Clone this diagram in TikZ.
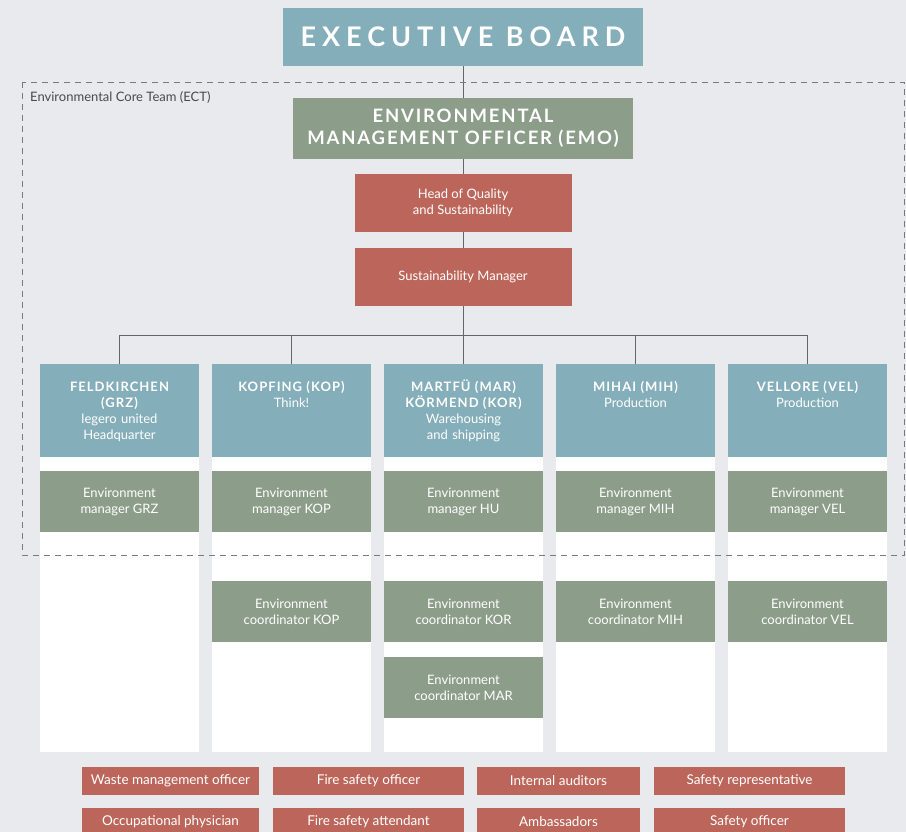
\documentclass[tikz,border=0pt]{standalone}
\usepackage{fontspec}
\setmainfont{Lato}
\definecolor{ecbg}{HTML}{E9EAED}
\definecolor{ecblue}{HTML}{84AEBA}
\definecolor{ecgreen}{HTML}{8C9E8A}
\definecolor{ecred}{HTML}{BC665B}
\definecolor{ecline}{HTML}{666666}
\definecolor{ecdash}{HTML}{7A7A7A}
\definecolor{ectext}{HTML}{4A4A4A}
\newcommand\sitename[1]{{\bfseries\addfontfeature{LetterSpace=8}#1}}

\begin{document}
\begin{tikzpicture}
[%%%%%%%%%%%%%%%%%%%%%%%%%%%%%%
x=1pt,y=-1pt,
box/.style={rectangle,inner sep=2pt,text=white,align=center,font=\fontsize{13}{16}\selectfont},
bluebox/.style={box,fill=ecblue},
greenbox/.style={box,fill=ecgreen,minimum width=159pt,minimum height=61pt},
redbox/.style={box,fill=ecred},
column/.style={rectangle,fill=white,minimum width=159pt,minimum height=388pt},
headtext/.style={anchor=north,inner sep=0pt,text=white,align=center,text width=159pt,font=\fontsize{13}{16}\selectfont},
link/.style={draw=ecline,line width=0.8pt},
ect/.style={draw=ecdash,line width=0.8pt,dash pattern=on 6pt off 5pt},
]%%%%%%%%%%%%%%%%%%%%%%%%%%%%%%

\clip (0,0) rectangle (906,832);
\fill[ecbg] (0,0) rectangle (906,832);

% top of the chart
\node[bluebox,minimum width=360pt,minimum height=58pt,
  font=\fontsize{27}{30}\selectfont\bfseries\addfontfeature{LetterSpace=22}] (board) at (463,37) {EXECUTIVE BOARD};
\node[greenbox,minimum width=340pt,minimum height=61pt,
  font=\fontsize{18.5}{22}\selectfont\bfseries\addfontfeature{LetterSpace=10}] (emo) at (463,128.5) {ENVIRONMENTAL\\MANAGEMENT OFFICER (EMO)};
\node[redbox,minimum width=217pt,minimum height=58pt] (hoq) at (463,203) {Head of Quality\\and Sustainability};
\node[redbox,minimum width=217pt,minimum height=58pt] (sm) at (463,277) {Sustainability Manager};

\draw[link] (board) -- (emo);
\draw[link] (emo) -- (hoq);
\draw[link] (hoq) -- (sm);

% sites
\foreach \n/\x/\m in {grz/119.5/GRZ,kop/291.5/KOP,mar/463.5/HU,mih/635.5/MIH,vel/807.5/VEL}{
\node[column] (col\n) at (\x,558){};
\node[bluebox,minimum width=159pt,minimum height=93pt] (head\n) at (\x,410.5){};
\node[greenbox] (mgr\n) at (\x,501.5){Environment\\manager \m};
\draw[link] (sm.south) -- ++(0,29) -| (head\n.north);
}

\node[headtext] (txtgrz) at (119.5,379){\rule{0pt}{12.5pt}\sitename{FELDKIRCHEN}\\\sitename{(GRZ)}\\legero united\\Headquarter};
\node[headtext] (txtkop) at (291.5,379){\rule{0pt}{12.5pt}\sitename{KOPFING (KOP)}\\Think!};
\node[headtext] (txtmar) at (463.5,379){\lineskiplimit=-6pt\rule{0pt}{12.5pt}\sitename{MARTFÜ (MAR)}\\\sitename{KÖRMEND (KOR)}\\Warehousing\\and shipping};
\node[headtext] (txtmih) at (635.5,379){\rule{0pt}{12.5pt}\sitename{MIHAI (MIH)}\\Production};
\node[headtext] (txtvel) at (807.5,379){\rule{0pt}{12.5pt}\sitename{VELLORE (VEL)}\\Production};

\node[greenbox] (coordkop) at (291.5,611.5){Environment\\coordinator KOP};
\node[greenbox] (coordkor) at (463.5,611.5){Environment\\coordinator KOR};
\node[greenbox] (coordmar) at (463.5,687.5){Environment\\coordinator MAR};
\node[greenbox] (coordmih) at (635.5,611.5){Environment\\coordinator MIH};
\node[greenbox] (coordvel) at (807.5,611.5){Environment\\coordinator VEL};

% core team frame
\draw[ect] (22,82) rectangle (904,555);
\node[anchor=west,inner sep=0pt,text=ectext,font=\fontsize{13}{15}\selectfont] (ectlabel) at (30,97){Environmental Core Team (ECT)};

% further roles
\foreach \k/\x/\w/\a/\b in {1/170.5/177pt/{Waste management officer}/{Occupational physician},
  2/368.5/191pt/{Fire safety officer}/{Fire safety attendant},
  3/558.5/163pt/{Internal auditors}/{Ambassadors},
  4/749.5/191pt/{Safety representative}/{Safety officer}}{
\node[redbox,minimum width=\w,minimum height=28pt,font=\fontsize{13.5}{16}\selectfont] (roleA\k) at (\x,781){\a};
\node[redbox,minimum width=\w,minimum height=28pt,font=\fontsize{13.5}{16}\selectfont] (roleB\k) at (\x,822){\b};
}
\end{tikzpicture}
\end{document}
